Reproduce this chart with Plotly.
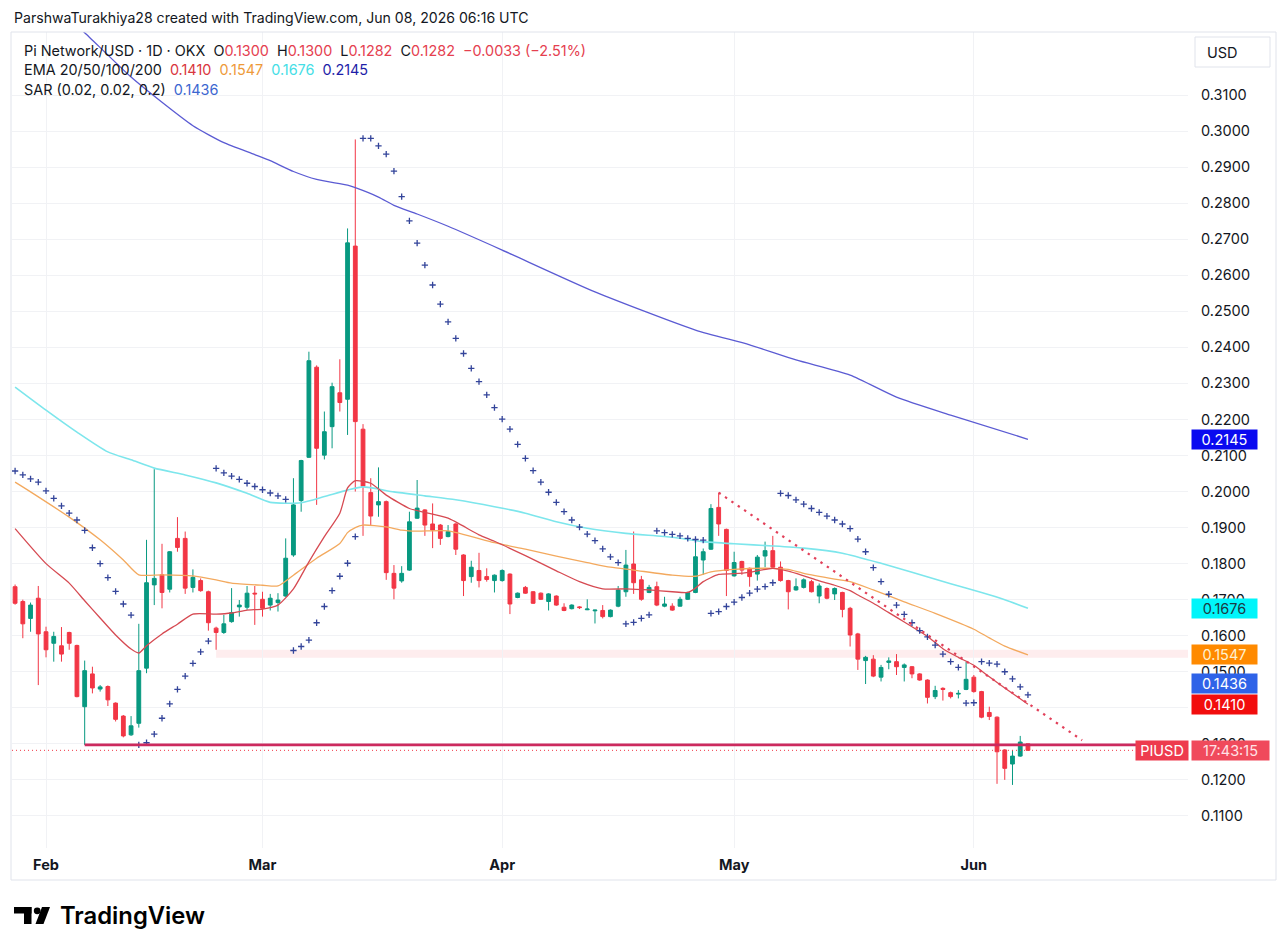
import plotly.graph_objects as go
import pandas as pd

# ---------------- DATA ----------------
dates = pd.date_range("2026-01-28", "2026-06-08", freq="D")

open_ = [0.1736, 0.1695, 0.1648, 0.1704,
         0.1611, 0.1579, 0.1572, 0.1609, 0.1573, 0.1403, 0.1494,
         0.1452, 0.1459, 0.1413, 0.1377, 0.1325, 0.1357, 0.1510,
         0.1741, 0.1769, 0.1729, 0.1870, 0.1870, 0.1734, 0.1753,
         0.1722, 0.1621, 0.1609, 0.1639, 0.1680, 0.1679, 0.1718,
         0.1701, 0.1685, 0.1692, 0.1710, 0.1824, 0.1975, 0.2095,
         0.2345, 0.2101, 0.2180, 0.2274, 0.2256, 0.2681, 0.2173,
         0.1997, 0.1963, 0.1972, 0.1773, 0.1752, 0.1782, 0.1926,
         0.1949, 0.1910, 0.1907, 0.1875, 0.1910, 0.1824, 0.1764,
         0.1781, 0.1764, 0.1753,
         0.1753, 0.1771, 0.1706, 0.1734, 0.1722, 0.1718, 0.1695,
         0.1710, 0.1679, 0.1675, 0.1680, 0.1672, 0.1669, 0.1670,
         0.1653, 0.1682, 0.1722, 0.1799, 0.1755, 0.1720, 0.1736,
         0.1682, 0.1682, 0.1682, 0.1701, 0.1720, 0.1810, 0.1840,
         0.1956, 0.1895,
         0.1766, 0.1806, 0.1787, 0.1771, 0.1821, 0.1836, 0.1790,
         0.1753, 0.1727, 0.1734, 0.1750, 0.1710, 0.1731, 0.1716,
         0.1720, 0.1676, 0.1605, 0.1531, 0.1535, 0.1485, 0.1526,
         0.1528, 0.1512, 0.1514, 0.1494, 0.1477, 0.1431, 0.1454,
         0.1442, 0.1438, 0.1451,
         0.1485, 0.1445, 0.1387, 0.1374, 0.1283, 0.1244, 0.1266, 0.1300]

high = [0.1742, 0.1700, 0.1692, 0.1738,
        0.1625, 0.1611, 0.1624, 0.1611, 0.1575, 0.1531, 0.1514,
        0.1463, 0.1462, 0.1415, 0.1380, 0.1377, 0.1633, 0.1866,
        0.2062, 0.1855, 0.1835, 0.1929, 0.1889, 0.1784, 0.1759,
        0.1725, 0.1625, 0.1658, 0.1732, 0.1699, 0.1738, 0.1738,
        0.1722, 0.1716, 0.1718, 0.1870, 0.2037, 0.2088, 0.2388,
        0.2350, 0.2222, 0.2302, 0.2367, 0.2730, 0.2977, 0.2187,
        0.2037, 0.2067, 0.1975, 0.1796, 0.1793, 0.1944, 0.2032,
        0.1951, 0.1967, 0.1910, 0.1907, 0.1912, 0.1826, 0.1808,
        0.1830, 0.1787, 0.1770,
        0.1784, 0.1773, 0.1720, 0.1738, 0.1724, 0.1720, 0.1718,
        0.1712, 0.1690, 0.1687, 0.1682, 0.1701, 0.1672, 0.1685,
        0.1673, 0.1738, 0.1838, 0.1889, 0.1766, 0.1741, 0.1750,
        0.1708, 0.1690, 0.1708, 0.1722, 0.1870, 0.1842, 0.1965,
        0.1997, 0.1897,
        0.1833, 0.1808, 0.1789, 0.1824, 0.1861, 0.1877, 0.1806,
        0.1755, 0.1759, 0.1759, 0.1755, 0.1745, 0.1734, 0.1734,
        0.1722, 0.1680, 0.1608, 0.1544, 0.1546, 0.1519, 0.1540,
        0.1549, 0.1523, 0.1516, 0.1496, 0.1479, 0.1461, 0.1457,
        0.1445, 0.1449, 0.1528,
        0.1491, 0.1447, 0.1403, 0.1376, 0.1285, 0.1283, 0.1322, 0.1300]

low = [0.1686, 0.1593, 0.1611, 0.1463,
       0.1540, 0.1528, 0.1528, 0.1561, 0.1429, 0.1297, 0.1440,
       0.1445, 0.1405, 0.1362, 0.1318, 0.1322, 0.1345, 0.1496,
       0.1685, 0.1676, 0.1720, 0.1833, 0.1716, 0.1720, 0.1722,
       0.1614, 0.1561, 0.1605, 0.1636, 0.1653, 0.1672, 0.1630,
       0.1653, 0.1670, 0.1667, 0.1708, 0.1819, 0.1944, 0.2093,
       0.1963, 0.2089, 0.2120, 0.2222, 0.2157, 0.2000, 0.1877,
       0.1907, 0.1930, 0.1755, 0.1701, 0.1747, 0.1780, 0.1924,
       0.1877, 0.1843, 0.1852, 0.1873, 0.1824, 0.1710, 0.1747,
       0.1734, 0.1750, 0.1720,
       0.1750, 0.1660, 0.1704, 0.1716, 0.1688, 0.1699, 0.1670,
       0.1683, 0.1668, 0.1673, 0.1674, 0.1671, 0.1634, 0.1648,
       0.1651, 0.1679, 0.1708, 0.1716, 0.1697, 0.1718, 0.1682,
       0.1679, 0.1669, 0.1681, 0.1699, 0.1718, 0.1769, 0.1838,
       0.1877, 0.1710,
       0.1764, 0.1769, 0.1736, 0.1753, 0.1790, 0.1787, 0.1750,
       0.1673, 0.1725, 0.1731, 0.1720, 0.1690, 0.1701, 0.1699,
       0.1651, 0.1570, 0.1505, 0.1466, 0.1485, 0.1473, 0.1507,
       0.1491, 0.1473, 0.1482, 0.1475, 0.1412, 0.1424, 0.1420,
       0.1426, 0.1426, 0.1449,
       0.1442, 0.1371, 0.1366, 0.1189, 0.1200, 0.1186, 0.1264, 0.1282]

close = [0.1690, 0.1633, 0.1685, 0.1605,
         0.1561, 0.1598, 0.1549, 0.1579, 0.1431, 0.1503, 0.1455,
         0.1458, 0.1422, 0.1368, 0.1322, 0.1350, 0.1503, 0.1747,
         0.1759, 0.1720, 0.1833, 0.1845, 0.1732, 0.1762, 0.1725,
         0.1636, 0.1609, 0.1633, 0.1664, 0.1685, 0.1718, 0.1716,
         0.1676, 0.1704, 0.1699, 0.1815, 0.1963, 0.2086, 0.2363,
         0.2120, 0.2166, 0.2291, 0.2247, 0.2690, 0.2194, 0.2015,
         0.1932, 0.1972, 0.1775, 0.1732, 0.1773, 0.1916, 0.1954,
         0.1907, 0.1893, 0.1870, 0.1889, 0.1840, 0.1753, 0.1790,
         0.1753, 0.1756, 0.1768,
         0.1781, 0.1688, 0.1718, 0.1718, 0.1690, 0.1701, 0.1716,
         0.1685, 0.1670, 0.1685, 0.1678, 0.1674, 0.1671, 0.1653,
         0.1671, 0.1727, 0.1796, 0.1747, 0.1701, 0.1734, 0.1685,
         0.1688, 0.1671, 0.1701, 0.1720, 0.1819, 0.1833, 0.1953,
         0.1910, 0.1781,
         0.1803, 0.1782, 0.1764, 0.1818, 0.1836, 0.1790, 0.1753,
         0.1722, 0.1736, 0.1755, 0.1722, 0.1738, 0.1704, 0.1731,
         0.1673, 0.1602, 0.1535, 0.1540, 0.1488, 0.1512, 0.1530,
         0.1514, 0.1519, 0.1494, 0.1477, 0.1429, 0.1448, 0.1451,
         0.1431, 0.1440, 0.1479,
         0.1445, 0.1374, 0.1376, 0.1278, 0.1232, 0.1266, 0.1305, 0.1282]

sar = [0.2057, 0.2046, 0.2035, 0.2026,
       0.2002, 0.1981, 0.1960, 0.1940, 0.1921, 0.1892, 0.1844,
       0.1800, 0.1761, 0.1723, 0.1688, 0.1657,
       0.1297, 0.1303, 0.1327, 0.1371, 0.1411, 0.1451, 0.1488, 0.1523, 0.1555, 0.1585,
       0.2064, 0.2052, 0.2043, 0.2034, 0.2023, 0.2014, 0.2005, 0.1996, 0.1988, 0.1978,
       0.1559, 0.1570, 0.1588, 0.1636, 0.1681, 0.1725, 0.1765, 0.1801, 0.1875,
       0.2980, 0.2980, 0.2959, 0.2936, 0.2889, 0.2818, 0.2751, 0.2689, 0.2628, 0.2573, 0.2520, 0.2471,
       0.2425, 0.2383, 0.2342, 0.2305, 0.2268, 0.2233, 0.2201, 0.2173, 0.2131, 0.2092, 0.2058, 0.2026, 0.1998,
       0.1970, 0.1944, 0.1921, 0.1901, 0.1882, 0.1864, 0.1841, 0.1819, 0.1803,
       0.1633, 0.1637, 0.1648, 0.1658,
       0.1891, 0.1886, 0.1881, 0.1877, 0.1870, 0.1867, 0.1865,
       0.1662, 0.1667, 0.1681, 0.1693, 0.1706, 0.1718, 0.1729, 0.1736, 0.1747,
       0.1995, 0.1989, 0.1977, 0.1965, 0.1953, 0.1942, 0.1932, 0.1921, 0.1910, 0.1897,
       0.1868, 0.1833, 0.1789, 0.1750, 0.1715, 0.1685, 0.1659, 0.1636, 0.1614, 0.1597,
       0.1574, 0.1549, 0.1528, 0.1512,
       0.1413, 0.1414,
       0.1528, 0.1524, 0.1521, 0.1500, 0.1480, 0.1458, 0.1436]

ema20_dates = ["2026-01-28", "2026-02-01", "2026-02-04", "2026-02-06", "2026-02-08", "2026-02-10",
               "2026-02-12", "2026-02-13", "2026-02-14", "2026-02-16", "2026-02-18", "2026-02-20",
               "2026-02-23", "2026-02-25", "2026-02-27", "2026-03-01", "2026-03-03", "2026-03-05",
               "2026-03-07", "2026-03-09", "2026-03-11", "2026-03-12", "2026-03-13", "2026-03-15",
               "2026-03-17", "2026-03-20", "2026-03-22", "2026-03-25", "2026-03-29", "2026-03-31",
               "2026-04-04", "2026-04-08", "2026-04-11", "2026-04-14", "2026-04-17", "2026-04-20",
               "2026-04-23", "2026-04-25", "2026-04-26", "2026-04-27", "2026-04-29", "2026-05-01",
               "2026-05-03", "2026-05-06", "2026-05-08", "2026-05-10", "2026-05-12", "2026-05-14",
               "2026-05-16", "2026-05-17", "2026-05-19", "2026-05-21", "2026-05-23", "2026-05-26",
               "2026-05-28", "2026-05-30", "2026-06-01", "2026-06-03", "2026-06-05", "2026-06-08"]
ema20 = [0.1897, 0.1800, 0.1746, 0.1697, 0.1649, 0.1602,
         0.1563, 0.1552, 0.1572, 0.1605, 0.1632, 0.1660,
         0.1660, 0.1663, 0.1671, 0.1674, 0.1685, 0.1730,
         0.1805, 0.1875, 0.1940, 0.2010, 0.2030, 0.2023,
         0.1990, 0.1953, 0.1942, 0.1926, 0.1880, 0.1862,
         0.1822, 0.1780, 0.1750, 0.1730, 0.1730, 0.1727,
         0.1722, 0.1720, 0.1732, 0.1750, 0.1770, 0.1772,
         0.1776, 0.1787, 0.1779, 0.1766, 0.1752, 0.1740,
         0.1725, 0.1713, 0.1690, 0.1664, 0.1638, 0.1598,
         0.1564, 0.1540, 0.1518, 0.1486, 0.1455, 0.1410]

ema50_dates = ["2026-01-28", "2026-01-30", "2026-02-04", "2026-02-08", "2026-02-11", "2026-02-13",
               "2026-02-16", "2026-02-20", "2026-02-23", "2026-02-25", "2026-03-01", "2026-03-03",
               "2026-03-05", "2026-03-08", "2026-03-11", "2026-03-12", "2026-03-13", "2026-03-14",
               "2026-03-17", "2026-03-19", "2026-03-21", "2026-03-25", "2026-03-31", "2026-04-04",
               "2026-04-08", "2026-04-12", "2026-04-15", "2026-04-18", "2026-04-23", "2026-04-26",
               "2026-04-28", "2026-05-01", "2026-05-06", "2026-05-08", "2026-05-10", "2026-05-14",
               "2026-05-16", "2026-05-19", "2026-05-23", "2026-05-27", "2026-06-01", "2026-06-03",
               "2026-06-05", "2026-06-08"]
ema50 = [0.2026, 0.1999, 0.1929, 0.1866, 0.1810, 0.1769,
         0.1769, 0.1766, 0.1755, 0.1746, 0.1740, 0.1738,
         0.1768, 0.1815, 0.1856, 0.1886, 0.1900, 0.1907,
         0.1902, 0.1893, 0.1890, 0.1891, 0.1858, 0.1840,
         0.1821, 0.1803, 0.1790, 0.1782, 0.1768, 0.1765,
         0.1777, 0.1784, 0.1787, 0.1784, 0.1773, 0.1757,
         0.1750, 0.1727, 0.1694, 0.1662, 0.1618, 0.1594,
         0.1571, 0.1547]

ema100_dates = ["2026-01-28", "2026-02-01", "2026-02-05", "2026-02-09", "2026-02-12", "2026-02-15",
                "2026-02-19", "2026-02-23", "2026-02-27", "2026-03-02", "2026-03-06", "2026-03-09",
                "2026-03-12", "2026-03-14", "2026-03-18", "2026-03-22", "2026-03-26", "2026-03-31",
                "2026-04-04", "2026-04-08", "2026-04-12", "2026-04-17", "2026-04-23", "2026-04-27",
                "2026-05-01", "2026-05-06", "2026-05-10", "2026-05-15", "2026-05-20", "2026-05-24",
                "2026-05-29", "2026-06-02", "2026-06-05", "2026-06-08"]
ema100 = [0.2290, 0.2226, 0.2165, 0.2110, 0.2088, 0.2065,
          0.2046, 0.2024, 0.1995, 0.1970, 0.1969, 0.1986,
          0.2004, 0.2013, 0.1999, 0.1988, 0.1977, 0.1958,
          0.1940, 0.1916, 0.1898, 0.1884, 0.1873, 0.1861,
          0.1855, 0.1849, 0.1843, 0.1829, 0.1801, 0.1776,
          0.1744, 0.1720, 0.1700, 0.1676]

ema200_dates = ["2026-02-05", "2026-02-06", "2026-02-12", "2026-02-16", "2026-02-20", "2026-02-24",
                "2026-02-28", "2026-03-02", "2026-03-05", "2026-03-08", "2026-03-12", "2026-03-13",
                "2026-03-16", "2026-03-18", "2026-03-21", "2026-03-25", "2026-04-01", "2026-04-13",
                "2026-04-26", "2026-05-03", "2026-05-09", "2026-05-16", "2026-05-22", "2026-05-29",
                "2026-06-08"]
ema200 = [0.3292, 0.3273, 0.3150, 0.3080, 0.3015, 0.2968,
          0.2935, 0.2918, 0.2888, 0.2866, 0.2850, 0.2843,
          0.2817, 0.2794, 0.2770, 0.2736, 0.2670, 0.2554,
          0.2448, 0.2407, 0.2365, 0.2323, 0.2262, 0.2212,
          0.2145]

month_ticks = ["2026-02-01", "2026-03-01", "2026-04-01", "2026-05-01", "2026-06-01"]
month_labels = ["Feb", "Mar", "Apr", "May", "Jun"]
price_ticks = [round(0.11 + 0.01 * k, 2) for k in range(21)]

support_level = 0.1297
support_start = "2026-02-06"
zone_low, zone_high, zone_start = 0.1539, 0.1561, "2026-02-23"
trend_start = ("2026-04-29", 0.1997)
trend_end = ("2026-06-15", 0.1310)
last_price = 0.1282

assert len(dates) == len(open_) == len(high) == len(low) == len(close) == len(sar) == 132

# ---------------- STYLE / LAYOUT ----------------
FONT = "Inter"
TXT = "#131722"
UP, DN = "#089981", "#F23645"
OFF = 8                      # page body margin of the browser
FW, FH = 1287 - 2 * OFF, 952 - 2 * OFF
PL, PR, PT, PB = 12 - OFF, 1188 - OFF, 32 - OFF, 848 - OFF


def pxx(px):
    """reference-screenshot pixel x -> paper x"""
    return (px - OFF - PL) / (PR - PL)


def pxy(py):
    """reference-screenshot pixel y -> paper y"""
    return (PB - (py - OFF)) / (PB - PT)


fig = go.Figure()

fig.add_trace(go.Candlestick(
    x=dates, open=open_, high=high, low=low, close=close,
    increasing=dict(line=dict(color=UP, width=1), fillcolor=UP),
    decreasing=dict(line=dict(color=DN, width=1), fillcolor=DN),
    whiskerwidth=0, hoverinfo="skip", showlegend=False))

for xs, ys, col_, wd in [(ema100_dates, ema100, "#7DE6EC", 1.6),
                         (ema50_dates, ema50, "#F3A95E", 1.3),
                         (ema20_dates, ema20, "#D64A52", 1.3),
                         (ema200_dates, ema200, "#5B5BD3", 1.3)]:
    fig.add_trace(go.Scatter(x=xs, y=ys, mode="lines",
                             line=dict(color=col_, width=wd, shape="spline", smoothing=0.6),
                             hoverinfo="skip", showlegend=False))

fig.add_trace(go.Scatter(
    x=dates, y=sar, mode="markers",
    marker=dict(symbol="cross-thin", size=4.5, line=dict(color="#33449A", width=1.3)),
    hoverinfo="skip", showlegend=False))

shapes = [
    dict(type="rect", xref="x", yref="y", x0=zone_start, x1="2026-07-10",
         y0=zone_low, y1=zone_high, fillcolor="rgba(242,54,69,0.09)",
         line=dict(width=0), layer="below"),
    dict(type="line", xref="paper", yref="y", x0=0, x1=1, y0=last_price, y1=last_price,
         line=dict(color=DN, width=1, dash="1px,3px")),
    dict(type="line", xref="x", yref="y", x0=support_start, x1="2026-07-10",
         y0=support_level, y1=support_level, line=dict(color="#CC2A5E", width=2.6)),
    dict(type="line", xref="x", yref="y", x0=trend_start[0], y0=trend_start[1],
         x1=trend_end[0], y1=trend_end[1],
         line=dict(color="#E2405A", width=2.2, dash="2.4px,5.3px")),
    # chart frame
    dict(type="rect", xref="paper", yref="paper", x0=pxx(11), x1=pxx(1276),
         y0=pxy(880), y1=pxy(32), line=dict(color="#E0E3EB", width=1)),
    # USD box
    dict(type="rect", xref="paper", yref="paper", x0=pxx(1195), x1=pxx(1270),
         y0=pxy(67), y1=pxy(37), line=dict(color="#E0E3EB", width=1)),
    # TradingView logo
    dict(type="rect", xref="paper", yref="paper", x0=pxx(14), x1=pxx(31.5),
         y0=pxy(913.5), y1=pxy(907), fillcolor="#000000", line=dict(width=0)),
    dict(type="rect", xref="paper", yref="paper", x0=pxx(24), x1=pxx(31.5),
         y0=pxy(924), y1=pxy(907), fillcolor="#000000", line=dict(width=0)),
    dict(type="circle", xref="paper", yref="paper", x0=pxx(33.8), x1=pxx(40.6),
         y0=pxy(914.2), y1=pxy(907.4), fillcolor="#000000", line=dict(width=0)),
    dict(type="path", xref="paper", yref="paper",
         path=f"M {pxx(35.5)},{pxy(924)} L {pxx(43.5)},{pxy(924)} L {pxx(50)},{pxy(907)} "
              f"L {pxx(42)},{pxy(907)} Z",
         fillcolor="#000000", line=dict(width=0)),
]

annotations = []


def txt(px, py, text, size, color=TXT, weight=None, anchor="left"):
    f = dict(family=FONT, size=size, color=color)
    if weight:
        f["weight"] = weight
    annotations.append(dict(xref="paper", yref="paper", x=pxx(px), y=pxy(py), text=text,
                            showarrow=False, xanchor=anchor, yanchor="middle", font=f))


def col(t, c):
    return f"<span style='color:{c}'>{t}</span>"


NB = "\u00a0"
RD = "#E5404F"
txt(12, 18, "ParshwaTurakhiya28 created with TradingView.com, Jun 08, 2026 06:16 UTC", 14.1)
txt(22, 50, "Pi Network/USD · 1D · OKX" + NB * 2 + "O" + col("0.1300", RD) + NB * 2 + "H" + col("0.1300", RD)
    + NB * 2 + "L" + col("0.1282", RD) + NB * 2 + "C" + col("0.1282", RD) + NB * 2
    + col("−0.0033 (−2.51%)", RD), 14.4)
txt(22, 70, "EMA 20/50/100/200" + NB * 2 + col("0.1410", "#D9363E") + NB * 2 + col("0.1547", "#EE9A3A")
    + NB * 2 + col("0.1676", "#45DEE6") + NB * 2 + col("0.2145", "#1E1EA8"), 14.4)
txt(22, 90, "SAR (0.02, 0.02, 0.2)" + NB * 2 + col("0.1436", "#3B66D0"), 14.4)
txt(1205, 52, "USD", 14.5)
txt(58, 916, "TradingView", 23.8, "#000000", weight=600)


def price_label(value, bg, fg, yshift=0):
    annotations.append(dict(xref="paper", yref="y", x=1, y=value, xanchor="left", yanchor="middle",
                            xshift=3, yshift=yshift, text=f"{value:.4f}", showarrow=False,
                            bgcolor=bg, width=63, height=17, borderpad=1,
                            font=dict(family=FONT, size=14.5, color=fg)))


price_label(0.2145, "#0A0AF0", "#FFFFFF")
price_label(0.1676, "#00F5FA", "#1C3A44")
price_label(0.1547, "#FF8A00", "#FFF1D0")
price_label(0.1436, "#2F63E8", "#FFFFFF", yshift=11)
price_label(0.1410, "#F20D0D", "#FFFFFF")
annotations.append(dict(xref="paper", yref="y", x=1, y=last_price, xanchor="right", yanchor="middle",
                        xshift=1, text="PIUSD", showarrow=False, bgcolor="#EE3B4E", width=50, height=17,
                        borderpad=1, font=dict(family=FONT, size=14.5, color="#FFFFFF")))
annotations.append(dict(xref="paper", yref="y", x=1, y=last_price, xanchor="left", yanchor="middle",
                        xshift=3, text="17:43:15", showarrow=False, bgcolor="#F04A5C", width=75, height=17,
                        borderpad=1, font=dict(family=FONT, size=14.5, color="#FFE2E6")))

fig.update_layout(
    width=FW, height=FH,
    margin=dict(l=PL, r=FW - PR, t=PT, b=FH - PB),
    paper_bgcolor="white", plot_bgcolor="white",
    showlegend=False,
    font=dict(family=FONT, color=TXT),
    shapes=shapes, annotations=annotations,
    xaxis=dict(type="date", range=["2026-01-27 14:24", "2026-06-28 16:48"],
               tickvals=month_ticks, ticktext=month_labels, ticks="",
               tickfont=dict(family=FONT, size=14.5, color=TXT, weight="bold"),
               ticklabelstandoff=6,
               showgrid=True, gridcolor="#F1F2F5", gridwidth=1, zeroline=False, showline=False,
               rangeslider=dict(visible=False), fixedrange=True),
    yaxis=dict(side="right", range=[0.1011, 0.3275], tickvals=price_ticks,
               ticktext=[f"{v:.4f}" for v in price_ticks], ticks="",
               tickfont=dict(family=FONT, size=14.5, color=TXT), ticklabelstandoff=12,
               showgrid=True, gridcolor="#F1F2F5", gridwidth=1, zeroline=False, showline=False,
               fixedrange=True),
)

fig.write_html("out.html")
